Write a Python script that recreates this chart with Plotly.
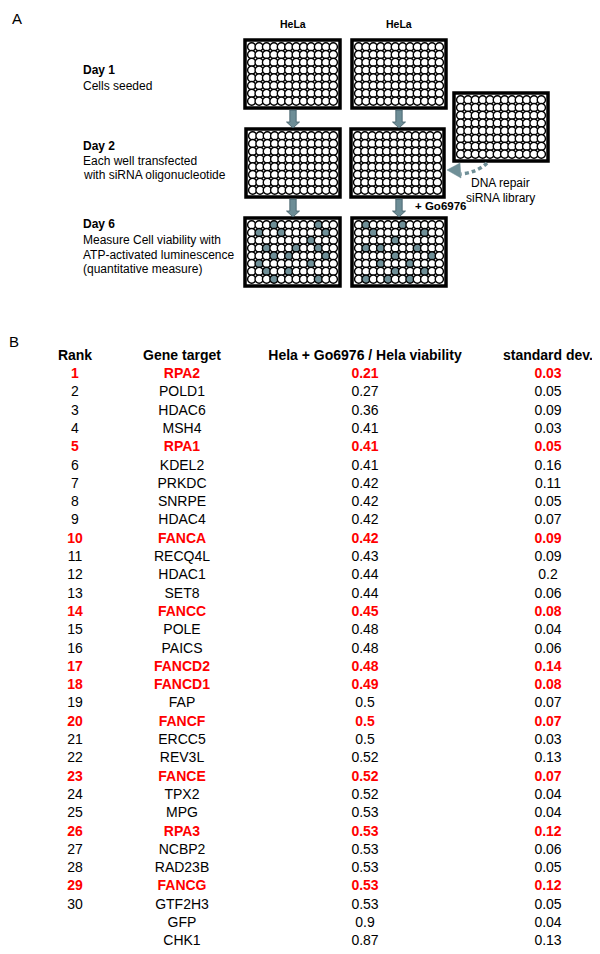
import plotly.graph_objects as go

# ---------------- DATA ----------------
ranks = [str(i) for i in range(1, 31)] + ["", ""]
genes = ["RPA2", "POLD1", "HDAC6", "MSH4", "RPA1", "KDEL2", "PRKDC", "SNRPE", "HDAC4", "FANCA",
         "RECQ4L", "HDAC1", "SET8", "FANCC", "POLE", "PAICS", "FANCD2", "FANCD1", "FAP", "FANCF",
         "ERCC5", "REV3L", "FANCE", "TPX2", "MPG", "RPA3", "NCBP2", "RAD23B", "FANCG", "GTF2H3",
         "GFP", "CHK1"]
viability = [0.21, 0.27, 0.36, 0.41, 0.41, 0.41, 0.42, 0.42, 0.42, 0.42,
             0.43, 0.44, 0.44, 0.45, 0.48, 0.48, 0.48, 0.49, 0.5, 0.5,
             0.5, 0.52, 0.52, 0.52, 0.53, 0.53, 0.53, 0.53, 0.53, 0.53,
             0.9, 0.87]
std_dev = [0.03, 0.05, 0.09, 0.03, 0.05, 0.16, 0.11, 0.05, 0.07, 0.09,
           0.09, 0.2, 0.06, 0.08, 0.04, 0.06, 0.14, 0.08, 0.07, 0.07,
           0.03, 0.13, 0.07, 0.04, 0.04, 0.12, 0.06, 0.05, 0.12, 0.05,
           0.04, 0.13]
highlighted = {"RPA2", "RPA1", "FANCA", "FANCC", "FANCD2", "FANCD1", "FANCF", "FANCE", "RPA3", "FANCG"}
headers = ["Rank", "Gene target", "Hela + Go6976 / Hela viability", "standard dev."]

# schematic: filled wells (row, col) on day-6 plates
hits_left = [(0, 3), (0, 9), (1, 1), (1, 4), (1, 10), (2, 8), (3, 2), (3, 6), (3, 9),
             (4, 3), (4, 5), (4, 10), (5, 1), (5, 8), (6, 2), (6, 5), (7, 3), (7, 9)]
hits_right = [(0, 1), (0, 6), (1, 2), (1, 9), (2, 5), (3, 1), (3, 3), (3, 8), (4, 5),
              (4, 10), (5, 3), (5, 7), (6, 5), (6, 9), (7, 1), (7, 4), (7, 7)]

# ---------------- LAYOUT GEOMETRY ----------------
W, H = 600, 954
OFF = 8  # page body margin
FONT = "Liberation Sans, Arial, sans-serif"
WELL_FILL = "#6f8f97"
ARROW_FILL = "#6d8d96"
ARROW_LINE = "#3f5c66"

fig = go.Figure()
shapes = []
annotations = []

plates = {
    "d1L": (245, 40, 340, 108), "d1R": (352, 40, 446, 108),
    "d2L": (246, 129, 340, 197), "d2R": (351, 129, 444, 197),
    "d6L": (245, 218, 340, 286), "d6R": (352, 218, 446, 286),
    "lib": (454, 93, 548, 161),
}
hit_map = {"d6L": hits_left, "d6R": hits_right}
NC, NR = 12, 8
bw = 3.5

for key, (x0, y0, x1, y1) in plates.items():
    shapes.append(dict(type="rect", x0=x0, y0=y0, x1=x1, y1=y1, xref="x", yref="y",
                       fillcolor="white", line=dict(width=0), layer="below"))
    shapes.append(dict(type="rect", x0=x0, y0=y0, x1=x1, y1=y1, xref="x", yref="y",
                       fillcolor="rgba(0,0,0,0)", line=dict(color="black", width=bw), layer="above"))
    ix0, iy0 = x0 + 3, y0 + 3
    dx = (x1 - x0 - 6) / NC
    dy = (y1 - y0 - 6) / NR
    hits = set(hit_map.get(key, []))
    xs, ys, cols = [], [], []
    for r in range(NR):
        for c in range(NC):
            xs.append(ix0 + (c + 0.5) * dx)
            ys.append(iy0 + (r + 0.5) * dy)
            cols.append(WELL_FILL if (r, c) in hits else "white")
    fig.add_trace(go.Scatter(x=xs, y=ys, mode="markers", hoverinfo="skip", showlegend=False,
                             marker=dict(size=8.2, color=cols, symbol="circle",
                                         line=dict(color="black", width=1.4))))

# down arrows
def down_arrow(cx, ytop, ybot):
    sw, hw, hh = 3.2, 6.5, 6
    yh = ybot - hh
    p = (f"M {cx-sw},{ytop} L {cx+sw},{ytop} L {cx+sw},{yh} L {cx+hw},{yh} "
         f"L {cx},{ybot} L {cx-hw},{yh} L {cx-sw},{yh} Z")
    return dict(type="path", path=p, xref="x", yref="y", fillcolor=ARROW_FILL,
                line=dict(color=ARROW_LINE, width=0.8), layer="above")

for cx in (293, 399):
    shapes.append(down_arrow(cx, 110, 128))
    shapes.append(down_arrow(cx, 199, 217))

# dashed curved arrow from library
shapes.append(dict(type="path", path="M 487,163 Q 478,172 461,174", xref="x", yref="y",
                   line=dict(color=WELL_FILL, width=3.5, dash="4px,3px"), layer="above"))
shapes.append(dict(type="path", path="M 447,170 L 460,163 L 461,178 Z", xref="x", yref="y",
                   fillcolor=WELL_FILL, line=dict(color=WELL_FILL, width=0.5), layer="above"))

def txt(x, y, s, size, bold=False, color="black", anchor="left"):
    annotations.append(dict(x=x, y=y, xref="x", yref="y", text=s, showarrow=False,
                            xanchor=anchor, yanchor="middle", borderpad=0,
                            font=dict(family=FONT, size=size, color=color,
                                      weight="bold" if bold else "normal")))

txt(11, 18, "A", 15)
txt(8, 341, "B", 15)
txt(293, 24, "HeLa", 10.5, bold=True, anchor="center")
txt(399, 24, "HeLa", 10.5, bold=True, anchor="center")
txt(82, 70, "Day 1", 12, bold=True)
txt(82, 86, "Cells seeded", 12)
txt(82, 146, "Day 2", 12, bold=True)
txt(82, 161, "Each well transfected", 12)
txt(82, 175, "with siRNA oligonucleotide", 12)
txt(82, 224, "Day 6", 12, bold=True)
txt(82, 240, "Measure Cell viability with", 12)
txt(82, 255, "ATP-activated luminescence", 12)
txt(82, 269, "(quantitative measure)", 12)
txt(500, 183, "DNA repair", 12, anchor="center")
txt(500, 198, "siRNA library", 12, anchor="center")
txt(414, 206, "+ Go6976", 11.5, bold=True)

# ---------------- TABLE ----------------
col_x = [75, 182, 365, 548]
y_head = 356
y_first = 374.5
step = 18.3
TSIZE = 14

fig.add_trace(go.Scatter(x=col_x, y=[y_head] * 4, text=headers, mode="text",
                         textposition="middle center", hoverinfo="skip", showlegend=False,
                         textfont=dict(family=FONT, size=TSIZE, color="black", weight="bold")))

for hl in (False, True):
    xs, ys, ts = [], [], []
    for i, g in enumerate(genes):
        if (g in highlighted) != hl:
            continue
        y = y_first + i * step
        for cx, val in zip(col_x, [ranks[i], g, f"{viability[i]:g}", f"{std_dev[i]:g}"]):
            xs.append(cx)
            ys.append(y)
            ts.append(val)
    fig.add_trace(go.Scatter(x=xs, y=ys, text=ts, mode="text", textposition="middle center",
                             hoverinfo="skip", showlegend=False,
                             textfont=dict(family=FONT, size=TSIZE,
                                           color="#ff0000" if hl else "black",
                                           weight="bold" if hl else "normal")))

fig.update_layout(
    width=W, height=H, margin=dict(l=0, r=0, t=0, b=0),
    paper_bgcolor="white", plot_bgcolor="white",
    xaxis=dict(range=[OFF, W + OFF], visible=False, fixedrange=True),
    yaxis=dict(range=[H + OFF, OFF], visible=False, fixedrange=True),
    shapes=shapes, annotations=annotations, showlegend=False,
)
fig.write_html("out.html")
